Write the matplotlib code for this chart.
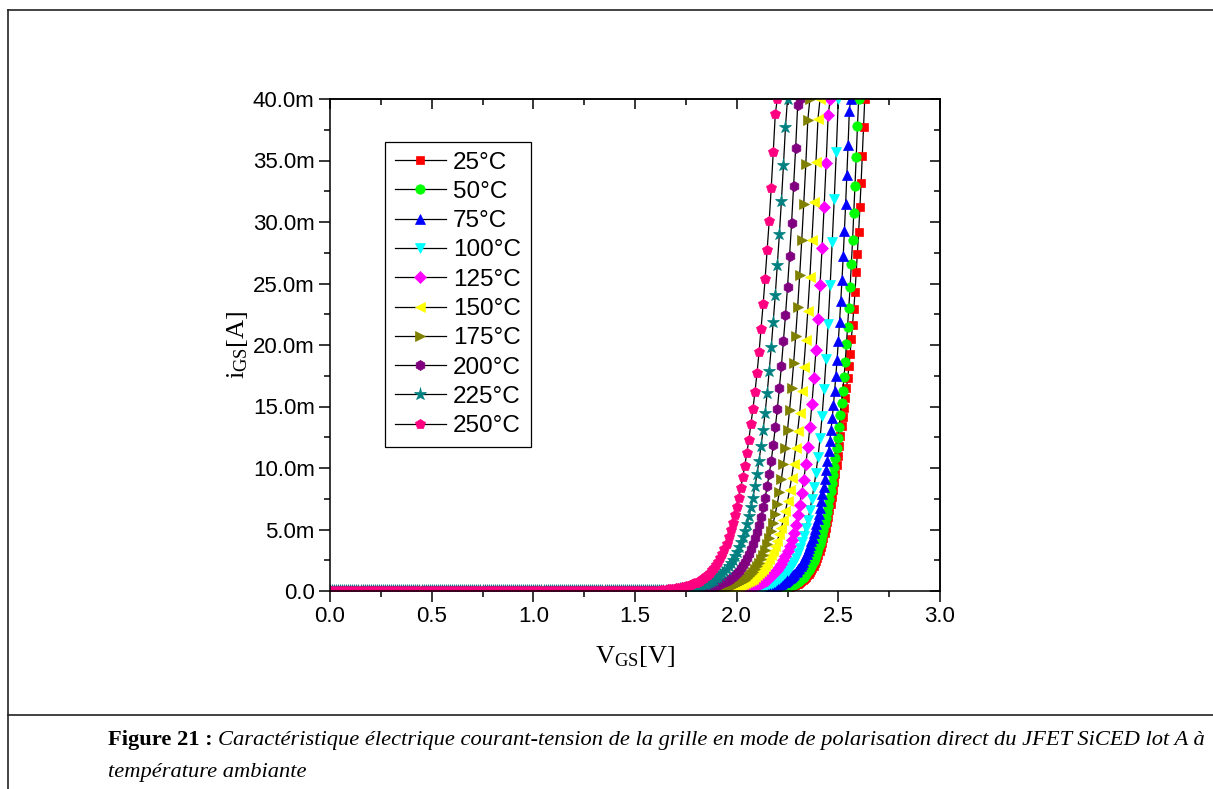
# forward gate I-V of the SiCED JFET (lot A) vs temperature
import numpy as np
import matplotlib
matplotlib.use("Agg")
from matplotlib import pyplot as plt
from matplotlib.ticker import MultipleLocator, FuncFormatter
from matplotlib.lines import Line2D

plt.rcParams["font.family"] = ["Liberation Sans", "DejaVu Sans"]
plt.rcParams["mathtext.fontset"] = "custom"
plt.rcParams["mathtext.rm"] = "Liberation Serif"

temps = [25, 50, 75, 100, 125, 150, 175, 200, 225, 250]
colors = ["#ff0000", "#00ff00", "#0000ff", "#00ffff", "#ff00ff",
          "#ffff00", "#808000", "#800080", "#008080", "#ff0080"]
markers = ["s", "o", "^", "v", "D", "<", ">", "h", "*", "p"]
msizes = [6.0, 6.8, 7.2, 7.2, 6.0, 7.2, 7.2, 7.2, 9.5, 7.6]

# voltage where each curve hits the 40 mA compliance, and sweep step (V)
v_end = [2.63, 2.60, 2.56, 2.50, 2.46, 2.41, 2.36, 2.31, 2.25, 2.20]
v_step = [0.006, 0.006, 0.006, 0.01, 0.01, 0.01, 0.01, 0.01, 0.01, 0.01]

# gate current in mA, rising part only (below it the current is ~0)
i25 = [0.10, 0.11, 0.12, 0.14, 0.15, 0.17, 0.19, 0.21, 0.23, 0.25,
       0.28, 0.31, 0.34, 0.37, 0.41, 0.45, 0.50, 0.55, 0.60, 0.66,
       0.73, 0.80, 0.88, 0.97, 1.07, 1.17, 1.28, 1.40, 1.54, 1.69,
       1.86, 2.04, 2.24, 2.46, 2.70, 2.96, 3.25, 3.56, 3.90, 4.28,
       4.68, 5.12, 5.58, 6.05, 6.55, 7.10, 7.65, 8.25, 8.90, 9.55,
       10.25, 11.0, 11.8, 12.6, 13.4, 14.15, 14.9, 15.7, 16.5, 17.3,
       18.3, 19.3, 20.5, 21.6, 22.9, 24.3, 25.9, 27.4, 29.2, 31.2,
       33.2, 35.4, 37.75, 40.0]
i50 = [0.10, 0.11, 0.12, 0.14, 0.15, 0.17, 0.19, 0.21, 0.23, 0.25,
       0.28, 0.31, 0.34, 0.37, 0.41, 0.45, 0.50, 0.55, 0.60, 0.66,
       0.73, 0.80, 0.88, 0.97, 1.07, 1.17, 1.28, 1.40, 1.53, 1.68,
       1.84, 2.02, 2.21, 2.42, 2.65, 2.90, 3.18, 3.48, 3.81, 4.17,
       4.57, 5.00, 5.45, 5.90, 6.40, 6.95, 7.50, 8.10, 8.75, 9.40,
       10.1, 10.85, 11.6, 12.4, 13.3, 14.3, 15.3, 16.3, 17.4, 18.6,
       20.1, 21.5, 23.0, 24.7, 26.6, 28.5, 30.7, 32.9, 35.3, 37.8,
       40.0]
i75 = [0.10, 0.11, 0.12, 0.13, 0.14, 0.15, 0.16, 0.17, 0.19, 0.20,
       0.22, 0.24, 0.26, 0.28, 0.30, 0.33, 0.35, 0.38, 0.41, 0.44,
       0.48, 0.52, 0.56, 0.60, 0.65, 0.70, 0.76, 0.82, 0.88, 0.95,
       1.03, 1.11, 1.20, 1.30, 1.40, 1.51, 1.63, 1.76, 1.90, 2.05,
       2.21, 2.38, 2.57, 2.77, 2.99, 3.22, 3.47, 3.74, 4.03, 4.34,
       4.68, 5.04, 5.43, 5.85, 6.30, 6.78, 7.30, 7.85, 8.45, 9.10,
       9.80, 10.55, 11.35, 12.2, 13.1, 14.1, 15.1, 16.3, 17.5, 18.8,
       20.3, 21.9, 23.6, 25.3, 27.2, 29.3, 31.5, 33.8, 36.3, 39.0,
       40.0]
i100 = [0.10, 0.11, 0.13, 0.15, 0.17, 0.19, 0.22, 0.25, 0.28, 0.32,
        0.36, 0.41, 0.46, 0.53, 0.60, 0.68, 0.77, 0.87, 0.99, 1.12,
        1.27, 1.44, 1.63, 1.85, 2.10, 2.39, 2.71, 3.08, 3.49, 3.96,
        4.50, 5.10, 5.78, 6.55, 7.45, 8.45, 9.60, 10.9, 12.4, 14.2,
        16.4, 18.9, 21.7, 24.9, 28.4, 31.9, 35.7, 40.0]
i125 = [0.10, 0.11, 0.13, 0.14, 0.16, 0.18, 0.21, 0.24, 0.27, 0.30,
        0.34, 0.39, 0.44, 0.50, 0.56, 0.64, 0.72, 0.82, 0.93, 1.05,
        1.19, 1.35, 1.53, 1.73, 1.96, 2.22, 2.52, 2.86, 3.24, 3.68,
        4.18, 4.75, 5.40, 6.15, 7.00, 7.95, 9.05, 10.3, 11.7, 13.3,
        15.2, 17.3, 19.6, 22.1, 24.9, 27.9, 31.2, 34.8, 38.7, 40.0]
i150 = [0.10, 0.12, 0.13, 0.15, 0.17, 0.19, 0.21, 0.24, 0.27, 0.31,
        0.35, 0.39, 0.44, 0.50, 0.56, 0.63, 0.71, 0.80, 0.90, 1.01,
        1.14, 1.28, 1.44, 1.62, 1.82, 2.05, 2.30, 2.58, 2.90, 3.25,
        3.65, 4.10, 4.60, 5.15, 5.80, 6.50, 7.30, 8.20, 9.20, 10.3,
        11.6, 13.0, 14.5, 16.3, 18.2, 20.4, 22.8, 25.5, 28.5, 31.6,
        34.9, 38.4, 40.0]
i175 = [0.10, 0.12, 0.13, 0.15, 0.17, 0.20, 0.23, 0.26, 0.29, 0.33,
        0.38, 0.43, 0.49, 0.56, 0.63, 0.72, 0.82, 0.93, 1.05, 1.20,
        1.36, 1.55, 1.76, 2.00, 2.28, 2.60, 2.95, 3.35, 3.80, 4.30,
        4.90, 5.55, 6.30, 7.10, 8.05, 9.10, 10.3, 11.6, 13.1, 14.7,
        16.5, 18.5, 20.7, 23.1, 25.7, 28.5, 31.5, 34.7, 38.3, 40.0]
i200 = [0.10, 0.12, 0.13, 0.15, 0.17, 0.19, 0.21, 0.24, 0.27, 0.31,
        0.35, 0.39, 0.44, 0.50, 0.56, 0.63, 0.71, 0.80, 0.90, 1.02,
        1.15, 1.30, 1.47, 1.66, 1.87, 2.11, 2.38, 2.68, 3.02, 3.40,
        3.82, 4.30, 4.80, 5.40, 6.05, 6.80, 7.60, 8.50, 9.50, 10.6,
        11.9, 13.3, 14.8, 16.5, 18.3, 20.3, 22.4, 24.7, 27.2, 29.9,
        32.9, 36.0, 39.5, 40.0]
i225 = [0.10, 0.12, 0.13, 0.15, 0.17, 0.19, 0.21, 0.23, 0.26, 0.30,
        0.33, 0.37, 0.42, 0.47, 0.53, 0.59, 0.66, 0.74, 0.83, 0.93,
        1.04, 1.16, 1.30, 1.46, 1.63, 1.82, 2.04, 2.28, 2.55, 2.85,
        3.20, 3.55, 3.95, 4.40, 4.90, 5.45, 6.10, 6.80, 7.60, 8.50,
        9.50, 10.6, 11.8, 13.1, 14.5, 16.1, 17.9, 19.8, 21.9, 24.1,
        26.5, 29.0, 31.7, 34.6, 37.7, 40.0]
i250 = [0.10, 0.11, 0.12, 0.14, 0.16, 0.18, 0.20, 0.22, 0.25, 0.28,
        0.31, 0.35, 0.39, 0.44, 0.49, 0.55, 0.61, 0.68, 0.76, 0.85,
        0.95, 1.06, 1.19, 1.33, 1.49, 1.67, 1.87, 2.10, 2.35, 2.65,
        3.00, 3.40, 3.85, 4.35, 4.95, 5.55, 6.20, 6.85, 7.60, 8.40,
        9.25, 10.2, 11.2, 12.3, 13.6, 14.8, 16.2, 17.7, 19.4, 21.3,
        23.3, 25.4, 27.7, 30.1, 32.8, 35.7, 38.8, 40.0]
currents = [i25, i50, i75, i100, i125, i150, i175, i200, i225, i250]

W, H = 1213, 789
fig = plt.figure(figsize=(W / 100, H / 100), dpi=100)
ax = fig.add_axes([330 / W, 1 - 591 / H, 610 / W, 492 / H])

for T, c, m, ms, ve, dv, cur in zip(temps, colors, markers, msizes, v_end, v_step, currents):
    n = len(cur)
    v_on = ve - dv * (n - 1)
    n_flat = int(round(v_on / dv))
    v = v_on + dv * np.arange(-n_flat, n)
    i = np.concatenate([np.zeros(n_flat), cur])
    ax.plot(v, i, color="black", lw=0.9, marker=m, ms=ms, mfc=c, mec=c,
            mew=0.5, label="%d°C" % T)

ax.set_xlim(0, 3)
ax.set_ylim(0, 40)
ax.xaxis.set_major_locator(MultipleLocator(0.5))
ax.xaxis.set_minor_locator(MultipleLocator(0.25))
ax.yaxis.set_major_locator(MultipleLocator(5))
ax.yaxis.set_minor_locator(MultipleLocator(2.5))
ax.xaxis.set_major_formatter(FuncFormatter(lambda x, p: "%.1f" % x))
ax.yaxis.set_major_formatter(FuncFormatter(lambda y, p: "0.0" if y == 0 else "%.1fm" % y))
ax.tick_params(which="both", direction="out", width=1.1, labelsize=16, top=False, right=False)
ax.tick_params(which="major", length=8, pad=3)
ax.tick_params(which="minor", length=4.5)
for s in ax.spines.values():
    s.set_linewidth(1.1)

# mirrored inward ticks on top and right
top = ax.secondary_xaxis("top")
top.xaxis.set_major_locator(MultipleLocator(0.5))
top.xaxis.set_minor_locator(MultipleLocator(0.25))
top.tick_params(which="both", direction="in", width=1.1, labeltop=False)
top.tick_params(which="major", length=7)
top.tick_params(which="minor", length=4)
right = ax.secondary_yaxis("right")
right.yaxis.set_major_locator(MultipleLocator(5))
right.yaxis.set_minor_locator(MultipleLocator(2.5))
right.tick_params(which="both", direction="in", width=1.1, labelright=False)
right.tick_params(which="major", length=7)
right.tick_params(which="minor", length=4)
for sec in (top, right):
    for s in sec.spines.values():
        s.set_linewidth(1.1)

ax.set_xlabel(r"$\mathregular{V_{GS}[V]}$", fontsize=19, family="Liberation Serif", labelpad=12)
ax.set_ylabel(r"$\mathregular{i_{GS}[A]}$", fontsize=19, family="Liberation Serif", labelpad=2)

leg = ax.legend(loc="upper left", bbox_to_anchor=(0.09, 0.913), borderaxespad=0,
                fontsize=17.5, fancybox=False, edgecolor="black", framealpha=1,
                handlelength=2.1, handletextpad=0.3, labelspacing=0.3, borderpad=0.4)
leg.get_frame().set_linewidth(0.9)

# page frame and caption box
def px_line(x0, y0, x1, y1):
    fig.add_artist(Line2D([x0 / W, x1 / W], [1 - y0 / H, 1 - y1 / H],
                          transform=fig.transFigure, color="#222222", lw=1.2))

px_line(8, 10, W, 10)
px_line(8, 10, 8, H)
px_line(8, 715, W, 715)

cap_size = 16.2
t1 = fig.text(108 / W, 1 - 740 / H, "Figure 21 :", family="Liberation Serif",
              weight="bold", fontsize=cap_size, va="center")
fig.canvas.draw()
bb = t1.get_window_extent()
fig.text(bb.x1 / W + 5 / W, 1 - 740 / H,
         "Caractéristique électrique courant-tension de la grille en mode de "
         "polarisation direct du JFET SiCED lot A à",
         family="Liberation Serif", style="italic", fontsize=cap_size, va="center")
fig.text(108 / W, 1 - 772 / H, "température ambiante", family="Liberation Serif",
         style="italic", fontsize=cap_size, va="center")

fig.savefig("out.png", dpi=100)
